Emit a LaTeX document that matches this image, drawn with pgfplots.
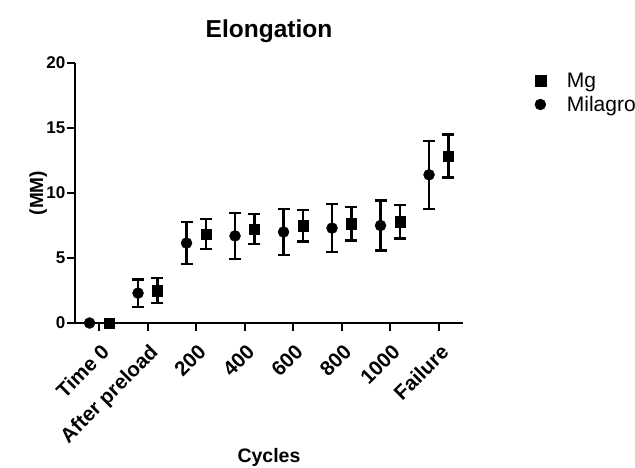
\documentclass[border=0pt]{standalone}
\usepackage{fontspec}
\setmainfont{Liberation Sans}
\usepackage{pgfplots}
\pgfplotsset{compat=1.18}

% mean and SD per cycle group (x shifted so the two series sit side by side)
\pgfplotstableread{
x    y     e
0.2  0     0
1.2  2.5   0.97
2.2  6.85  1.15
3.2  7.23  1.15
4.2  7.47  1.2
5.2  7.65  1.3
6.2  7.8   1.3
7.2  12.85 1.65
}\mgdata
\pgfplotstableread{
x    y     e
-0.2 0     0
0.8  2.3   1.05
1.8  6.15  1.6
2.8  6.7   1.75
3.8  7.0   1.77
4.8  7.3   1.85
5.8  7.5   1.93
6.8  11.4  2.6
}\milagrodata

\begin{document}
\begin{tikzpicture}
\path[use as bounding box] (-75pt,-144pt) rectangle (560pt,323pt);
\begin{axis}[
  at={(0,0)}, anchor=south west,
  scale only axis, width=388pt, height=260pt,
  xmin=-0.5, xmax=7.5, ymin=0, ymax=20,
  clip=false,
  axis lines=left,
  axis line style={-, line width=2.6pt},
  tick align=outside,
  major tick length=8pt,
  tick style={line width=2.2pt, black},
  xtick={0,...,7},
  xticklabels={Time 0, After preload, 200, 400, 600, 800, 1000, Failure},
  ytick={0,5,10,15,20},
  /pgf/number format/assume math mode=true,
  xticklabel style={rotate=45, anchor=north east, inner sep=1pt,
    yshift=-8pt, xshift=-7pt,
    font=\fontsize{20.5}{20.5}\selectfont\bfseries},
  yticklabel style={font=\fontsize{17}{17}\selectfont\bfseries, inner sep=1.5pt},
  title={Elongation},
  title style={at={(axis description cs:0.5,1.098)}, anchor=center,
    font=\fontsize{24.5}{24.5}\selectfont\bfseries},
  xlabel={Cycles},
  xlabel style={at={(axis description cs:0.5,-0.519)}, anchor=center,
    font=\fontsize{19.5}{19.5}\selectfont\bfseries},
  ylabel={(MM)},
  ylabel style={at={(axis description cs:-0.095,0.5)}, anchor=center, rotate=0,
    font=\fontsize{19}{19}\selectfont\bfseries},
  legend image code/.code={\draw[#1, mark size=5.5pt] plot coordinates {(0pt,0pt)};},
  legend style={at={(axis description cs:1.177,0.977)}, anchor=north west,
    draw=none, fill=none, font=\fontsize{21}{21}\selectfont,
    row sep=3pt, column sep=19pt},
  legend cell align=left,
]
\addplot[only marks, black, mark=square*, mark size=5.2pt,
  error bars/.cd, y dir=both, y explicit,
  error bar style={line width=2.2pt},
  error mark options={rotate=90, mark size=6pt, line width=2.2pt}]
  table[x=x, y=y, y error=e] {\mgdata};
\addlegendentry{Mg}
\addplot[only marks, black, mark=*, mark size=5.5pt,
  error bars/.cd, y dir=both, y explicit,
  error bar style={line width=2.2pt},
  error mark options={rotate=90, mark size=6pt, line width=2.2pt}]
  table[x=x, y=y, y error=e] {\milagrodata};
\addlegendentry{Milagro}
\end{axis}
\end{tikzpicture}
\end{document}
